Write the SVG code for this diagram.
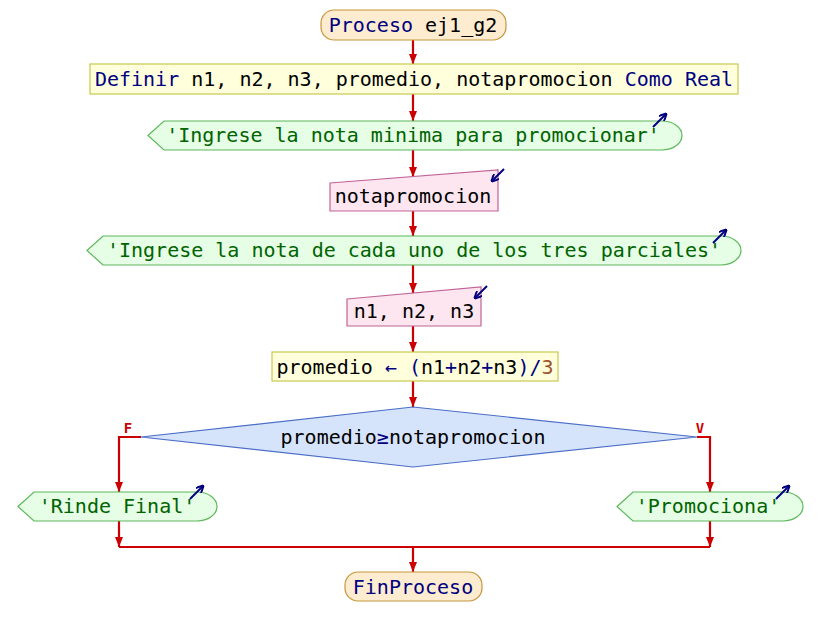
<svg xmlns="http://www.w3.org/2000/svg" width="822" height="637" viewBox="0 0 822 637">
<defs>
<marker id="ah" viewBox="0 0 10 8" refX="10" refY="4" markerWidth="10" markerHeight="8" markerUnits="userSpaceOnUse" orient="auto">
<path d="M0,0 L10,4 L0,8 Z" fill="#cc0000"/>
</marker>
<marker id="ih" viewBox="0 0 8 8" refX="7" refY="4" markerWidth="8" markerHeight="8" markerUnits="userSpaceOnUse" orient="auto">
<path d="M0,0 L8,4 L0,8" fill="none" stroke="#000080" stroke-width="2"/>
</marker>
</defs>
<style>
text{font-family:"DejaVu Sans Mono","Liberation Mono",monospace;font-size:20px;text-anchor:middle;fill:#000}
.kw{fill:#000080}
.str{fill:#006400}
.num{fill:#a0522d}
.lbl{font-size:14px;font-weight:bold;fill:#cc0000}
.term{fill:#fdecd0;stroke:#c8963c;stroke-width:1.2}
.proc{fill:#ffffdc;stroke:#c8c850;stroke-width:1.2}
.out{fill:#e6fde6;stroke:#5cb85c;stroke-width:1.2}
.inp{fill:#fde6f0;stroke:#c06496;stroke-width:1.2}
.dec{fill:#d6e4fb;stroke:#4b6ec8;stroke-width:1.2}
.conn{fill:none;stroke:#cc0000;stroke-width:2.2}
.icon{fill:none;stroke:#000080;stroke-width:2}
</style>
<g id="connectors">
<path class="conn" d="M413,40 V64" marker-end="url(#ah)"/>
<path class="conn" d="M413,94 V121" marker-end="url(#ah)"/>
<path class="conn" d="M413,150 V177" marker-end="url(#ah)"/>
<path class="conn" d="M413,211 V236" marker-end="url(#ah)"/>
<path class="conn" d="M413,265 V293" marker-end="url(#ah)"/>
<path class="conn" d="M413,326 V352" marker-end="url(#ah)"/>
<path class="conn" d="M413,381 V407" marker-end="url(#ah)"/>
<path class="conn" d="M141,437 H119 V492" marker-end="url(#ah)"/>
<path class="conn" d="M697,437 H710 V492" marker-end="url(#ah)"/>
<path class="conn" d="M119,521 V547" marker-end="url(#ah)"/>
<path class="conn" d="M710,521 V547" marker-end="url(#ah)"/>
<path class="conn" d="M119,547 H710"/>
<path class="conn" d="M413,547 V572" marker-end="url(#ah)"/>
<text class="lbl" x="128" y="433">F</text>
<text class="lbl" x="700" y="433">V</text>
</g>
<g id="start">
<rect class="term" x="321" y="10" width="185" height="30" rx="13"/>
<text x="413" y="32"><tspan class="kw">Proceso</tspan> ej1_g2</text>
</g>
<g id="definir">
<rect class="proc" x="90" y="64" width="648" height="30"/>
<text x="414" y="86"><tspan class="kw">Definir</tspan> n1, n2, n3, promedio, notapromocion <tspan class="kw">Como Real</tspan></text>
</g>
<g id="out1">
<path class="out" d="M148,135.5 L164,121 H662 A20,14.5 0 0 1 662,150 H164 Z"/>
<text class="str" x="413" y="142">'Ingrese la nota minima para promocionar'</text>
<path class="icon" d="M653,127 L666,114" marker-end="url(#ih)"/>
</g>
<g id="in1">
<path class="inp" d="M330,183 L498,170 V211 H330 Z"/>
<text x="413" y="203">notapromocion</text>
<path class="icon" d="M504,169 L492,181" marker-end="url(#ih)"/>
</g>
<g id="out2">
<path class="out" d="M87,250.5 L103,236 H721 A20,14.5 0 0 1 721,265 H103 Z"/>
<text class="str" x="414" y="257">'Ingrese la nota de cada uno de los tres parciales'</text>
<path class="icon" d="M713,243 L726,230" marker-end="url(#ih)"/>
</g>
<g id="in2">
<path class="inp" d="M347,299 L481,287 V326 H347 Z"/>
<text x="414" y="318">n1, n2, n3</text>
<path class="icon" d="M487,286 L475,298" marker-end="url(#ih)"/>
</g>
<g id="asig">
<rect class="proc" x="272" y="352" width="286" height="29"/>
<text x="415" y="374">promedio <tspan class="kw">←</tspan> <tspan class="kw">(</tspan>n1<tspan class="kw">+</tspan>n2<tspan class="kw">+</tspan>n3<tspan class="kw">)/</tspan><tspan class="num">3</tspan></text>
</g>
<g id="decision">
<path class="dec" d="M413,407 L697,437 L413,467 L141,437 Z"/>
<text x="413" y="444">promedio<tspan class="kw">≥</tspan>notapromocion</text>
</g>
<g id="outF">
<path class="out" d="M18,506.5 L34,492 H197 A20,14.5 0 0 1 197,521 H34 Z"/>
<text class="str" x="117" y="513">'Rinde Final'</text>
<path class="icon" d="M190,499 L203,486" marker-end="url(#ih)"/>
</g>
<g id="outV">
<path class="out" d="M617,506.5 L633,492 H783 A20,14.5 0 0 1 783,521 H633 Z"/>
<text class="str" x="708" y="513">'Promociona'</text>
<path class="icon" d="M776,499 L789,486" marker-end="url(#ih)"/>
</g>
<g id="end">
<rect class="term" x="345" y="572" width="137" height="29" rx="13"/>
<text class="kw" x="413" y="594">FinProceso</text>
</g>
</svg>
